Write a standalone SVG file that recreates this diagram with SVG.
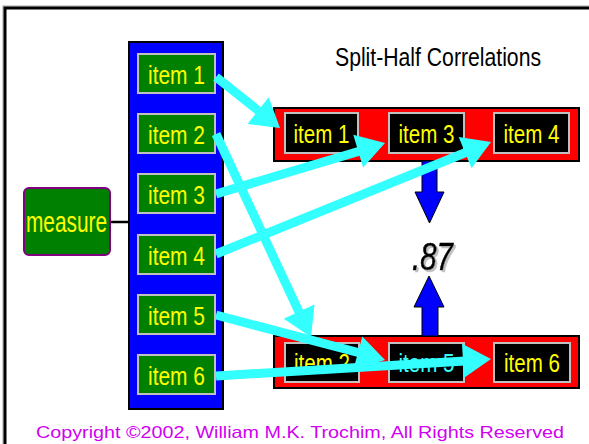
<svg xmlns="http://www.w3.org/2000/svg" width="589" height="444" viewBox="0 0 589 444">
<style>
.item{fill:#008000;stroke:#c0c0c0;stroke-width:2}
.ritem{fill:#000000;stroke:#c0c0c0;stroke-width:2}
.t{font-family:"Liberation Sans",Arial,sans-serif;font-size:25px;fill:#ffff00;text-anchor:middle}
.red{fill:#ff0000;stroke:#000000;stroke-width:2}
.shaft{stroke:#33ffff;stroke-width:9;fill:none}
.head{fill:#33ffff}
.blue{fill:#0000ff;stroke:#000000;stroke-width:1}
</style>
<defs>
<filter id="shadow" x="-20%" y="-20%" width="150%" height="150%">
<feFlood flood-color="#c0c0c0" result="c"/>
<feComposite in="c" in2="SourceAlpha" operator="in" result="s"/>
<feOffset in="s" dx="2" dy="2" result="o"/>
<feMerge><feMergeNode in="o"/><feMergeNode in="SourceGraphic"/></feMerge>
</filter>
</defs>
<rect x="0" y="0" width="589" height="444" fill="#ffffff"/>
<rect x="3" y="6" width="620" height="480" fill="none" stroke="#a0a0a0" stroke-width="1"/>
<rect x="5" y="8" width="620" height="480" fill="none" stroke="#000000" stroke-width="3"/>
<text x="335" y="66" font-family="'Liberation Sans',Arial,sans-serif" font-size="25" textLength="206" lengthAdjust="spacingAndGlyphs" fill="#000000">Split-Half Correlations</text>
<g id="column">
<rect x="129" y="42" width="94" height="367" fill="#0000ff" stroke="#000000" stroke-width="2"/>
</g>
<g id="connectors-line">
<line x1="110" y1="222" x2="129" y2="222" stroke="#000000" stroke-width="2.5"/>
</g>
<g id="measure">
<rect x="24" y="188" width="86" height="67" rx="5" fill="#008000" stroke="#800080" stroke-width="2"/>
<text x="66.5" y="232" font-family="'Liberation Sans',Arial,sans-serif" font-size="30" text-anchor="middle" fill="#ffff00" textLength="81" lengthAdjust="spacingAndGlyphs">measure</text>
</g>
<g id="item1"><rect class="item" x="138" y="54" width="77" height="39"/><text class="t" x="176.5" y="84" textLength="57" lengthAdjust="spacingAndGlyphs">item 1</text></g>
<g id="item2"><rect class="item" x="138" y="114" width="77" height="39"/><text class="t" x="176.5" y="144" textLength="57" lengthAdjust="spacingAndGlyphs">item 2</text></g>
<g id="item3"><rect class="item" x="138" y="174" width="77" height="39"/><text class="t" x="176.5" y="204" textLength="57" lengthAdjust="spacingAndGlyphs">item 3</text></g>
<g id="item4"><rect class="item" x="138" y="235" width="77" height="39"/><text class="t" x="176.5" y="265" textLength="57" lengthAdjust="spacingAndGlyphs">item 4</text></g>
<g id="item5"><rect class="item" x="138" y="295" width="77" height="39"/><text class="t" x="176.5" y="325" textLength="57" lengthAdjust="spacingAndGlyphs">item 5</text></g>
<g id="item6"><rect class="item" x="138" y="355" width="77" height="39"/><text class="t" x="176.5" y="385" textLength="57" lengthAdjust="spacingAndGlyphs">item 6</text></g>
<g id="top-half">
<rect class="red" x="274" y="108" width="305" height="53"/>
<rect class="ritem" x="285" y="113" width="73" height="40"/><text class="t" x="321.5" y="143" textLength="56" lengthAdjust="spacingAndGlyphs">item 1</text>
<rect class="ritem" x="389" y="113" width="75" height="40"/><text class="t" x="426.5" y="143" textLength="56" lengthAdjust="spacingAndGlyphs">item 3</text>
<rect class="ritem" x="494" y="113" width="75" height="40"/><text class="t" x="531.5" y="143" textLength="56" lengthAdjust="spacingAndGlyphs">item 4</text>
</g>
<g id="bottom-half">
<rect class="red" x="274" y="336" width="305" height="52"/>
<rect class="ritem" x="285" y="343" width="74" height="39"/><text class="t" x="322" y="372" textLength="56" lengthAdjust="spacingAndGlyphs">item 2</text>
<rect class="ritem" x="389" y="343" width="75" height="39"/><text class="t" x="426.5" y="372" textLength="56" lengthAdjust="spacingAndGlyphs" style="fill:#33ffff">item 5</text>
<rect class="ritem" x="494" y="343" width="76" height="39"/><text class="t" x="532" y="372" textLength="56" lengthAdjust="spacingAndGlyphs">item 6</text>
</g>
<g id="correlation">
<text x="412" y="270" font-family="'Liberation Sans',Arial,sans-serif" font-size="39" font-style="italic" fill="#000000" stroke="#000000" stroke-width="0.6" textLength="41" lengthAdjust="spacingAndGlyphs" filter="url(#shadow)">.87</text>
</g>
<g id="connectors">
<polygon class="blue" points="422,161 437,161 437,192 444,192 429.5,223 415,192 422,192"/>
<polygon class="blue" points="422,336 438,336 438,307 444,307 429,276 414,307 422,307"/>
<line class="shaft" x1="216" y1="77" x2="260" y2="112"/>
<polygon class="head" points="280,128 247.5,123.9 268.7,97.3"/>
<line class="shaft" x1="216" y1="134" x2="300" y2="314"/>
<polygon class="head" points="311,337 283.7,318.8 314.5,304.4"/>
<line class="shaft" x1="216" y1="194" x2="360" y2="151"/>
<polygon class="head" points="385,143 363.1,167.4 353.3,134.8"/>
<line class="shaft" x1="216" y1="254" x2="467" y2="152"/>
<polygon class="head" points="491,142 471.5,168.3 458.7,136.9"/>
<line class="shaft" x1="216" y1="315" x2="360" y2="353"/>
<polygon class="head" points="385,360 353.5,369.2 362.3,336.4"/>
<line class="shaft" x1="216" y1="376" x2="465" y2="361"/>
<polygon class="head" points="491,359 464.1,377.7 462,343.7"/>
</g>
<text x="36" y="438" font-family="'Liberation Sans',Arial,sans-serif" font-size="16.5" fill="#d000f0" textLength="528" lengthAdjust="spacingAndGlyphs">Copyright ©2002, William M.K. Trochim, All Rights Reserved</text>
</svg>
